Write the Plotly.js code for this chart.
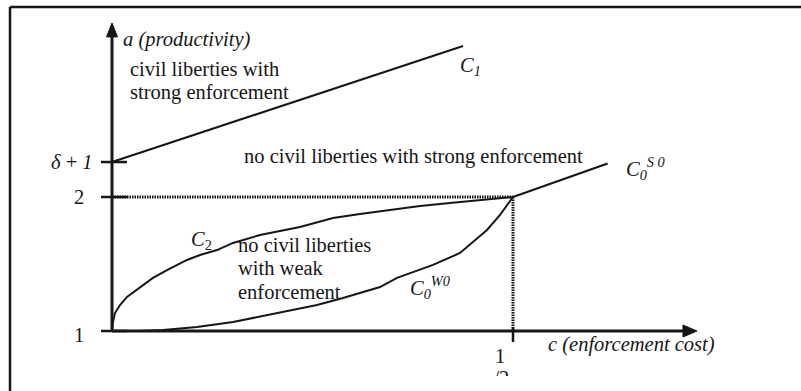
<!DOCTYPE html>
<html>
<head>
<meta charset="utf-8">
<script src="https://cdn.plot.ly/plotly-3.0.1.min.js"></script>
<style>
  html, body { margin: 0; padding: 0; background: #ffffff; }
  #chart { width: 801px; height: 391px; }
</style>
</head>
<body>
<div id="chart"></div>
<script>
// ---- Regions of the (c, a) plane: boundary curves ----
// c = enforcement cost, a = productivity
const deltaPlusOne = 2.261;          // intercept of C1 on the a-axis
const halfCost = 0.5;                // c = 1/2, where C2 and C0^W0 meet C0^S0

// C1: upper boundary (civil liberties with strong enforcement above it)
const c1Cost = [0, 0.4377];
const c1Prod = [deltaPlusOne, 3.127];

// C0^S0: boundary for c beyond 1/2
const c0sCost = [0.5, 0.618];
const c0sProd = [2.0, 2.25];

// C2: concave curve from (0,1) to (1/2, 2)
const c2Cost = [0, 0.0012, 0.0037, 0.010, 0.0187, 0.0349, 0.0511, 0.0686, 0.0935, 0.1097,
                0.1309, 0.1509, 0.1845, 0.2344, 0.2756, 0.3092, 0.3466, 0.3840, 0.4214, 0.4589, 0.5];
const c2Prod = [1.0, 1.067, 1.134, 1.194, 1.254, 1.328, 1.396, 1.455, 1.530, 1.567,
                1.604, 1.657, 1.716, 1.776, 1.843, 1.873, 1.903, 1.933, 1.955, 1.978, 2.0];

// C0^W0: convex curve from (0,1) to (1/2, 2)
const c0wCost = [0, 0.0349, 0.0636, 0.1060, 0.1509, 0.1933, 0.2344, 0.2556, 0.2880, 0.3342,
                 0.3554, 0.4003, 0.4339, 0.4676, 0.4838, 0.4963, 0.5];
const c0wProd = [1.0, 1.0, 1.007, 1.030, 1.067, 1.119, 1.172, 1.194, 1.246, 1.328,
                 1.396, 1.493, 1.582, 1.754, 1.866, 1.963, 2.0];

// Axis extents and tick labels
const axisTopProd = 3.299;
const axisRightCost = 0.7294;
const yTickVals = [1, 2, deltaPlusOne];
const yTickText = ['1', '2', '<i>δ</i> + <i>1</i>'];
const xTickVals = [halfCost];

// ---- styling ----
const INK = '#161616';
const SERIF = '"Liberation Serif", "Times New Roman", serif';
const FS = 20.5;

function curve(x, y, w) {
  return { x: x, y: y, type: 'scatter', mode: 'lines', hoverinfo: 'skip',
           showlegend: false, line: { color: INK, width: w || 2 } };
}

const traces = [
  // axes
  curve([0, 0], [1, axisTopProd - 0.05], 3),
  curve([0, axisRightCost - 0.01], [1, 1], 3),
  // dotted guides at a = 2 and c = 1/2
  { x: [0, halfCost], y: [2, 2], type: 'scatter', mode: 'lines', hoverinfo: 'skip', showlegend: false,
    line: { color: INK, width: 3, dash: '1.5px,1px' } },
  { x: [halfCost, halfCost], y: [1, 2], type: 'scatter', mode: 'lines', hoverinfo: 'skip', showlegend: false,
    line: { color: INK, width: 3, dash: '1.5px,1px' } },
  // boundaries
  curve(c1Cost, c1Prod, 2),
  curve(c0sCost, c0sProd, 2),
  curve(c2Cost, c2Prod, 2),
  curve(c0wCost, c0wProd, 2),
  // denominator of the 1/2 tick label (partly hidden by the page edge strip)
  { x: [0.4855], y: [0.632], type: 'scatter', mode: 'text', text: ['/2'], hoverinfo: 'skip',
    showlegend: false, textposition: 'middle center', cliponaxis: false,
    textfont: { family: SERIF, size: FS, color: INK } }
];

const shapes = [];
// outer frame (left and top edges)
shapes.push({ type: 'line', xref: 'paper', yref: 'paper', x0: 10 / 801, x1: 10 / 801, y0: -0.02, y1: 1 - 7 / 391,
              line: { color: INK, width: 2.5 } });
shapes.push({ type: 'line', xref: 'paper', yref: 'paper', x0: 10 / 801, x1: 1.01, y0: 1 - 7 / 391, y1: 1 - 7 / 391,
              line: { color: INK, width: 2.5 } });
// tick marks crossing the a-axis
yTickVals.forEach(function (v) {
  shapes.push({ type: 'line', xref: 'x', yref: 'y', xsizemode: 'pixel', xanchor: 0,
                x0: -11, x1: 15, y0: v, y1: v, line: { color: INK, width: 2.5 } });
});
// tick mark on the c-axis
xTickVals.forEach(function (v) {
  shapes.push({ type: 'line', xref: 'x', yref: 'y', ysizemode: 'pixel', yanchor: 1,
                y0: 4, y1: -11, x0: v, x1: v, line: { color: INK, width: 2.5 } });
});
// arrowheads
shapes.push({ type: 'path', xref: 'x', yref: 'y', xsizemode: 'pixel', ysizemode: 'pixel',
              xanchor: 0, yanchor: axisTopProd, path: 'M0,0 L-5.5,-14 L5.5,-14 Z',
              fillcolor: INK, line: { color: INK, width: 1 } });
shapes.push({ type: 'path', xref: 'x', yref: 'y', xsizemode: 'pixel', ysizemode: 'pixel',
              xanchor: axisRightCost, yanchor: 1, path: 'M0,0 L-14,6 L-14,-6 Z',
              fillcolor: INK, line: { color: INK, width: 1 } });
// strip along the bottom edge
shapes.push({ type: 'rect', xref: 'x', yref: 'paper', xsizemode: 'pixel', xanchor: halfCost,
              x0: -30, x1: 25, y0: -0.01, y1: 15 / 391, fillcolor: '#ffffff',
              line: { width: 0 }, layer: 'above' });

function label(text, x, y, xanchor, italic) {
  return { text: italic ? '<i>' + text + '</i>' : text, x: x, y: y, xref: 'x', yref: 'y',
           xanchor: xanchor || 'left', yanchor: 'middle', showarrow: false,
           font: { family: SERIF, size: FS, color: INK } };
}

const annotations = [
  label('a (productivity)', 0.0112, 3.179, 'left', true),
  label('civil liberties with', 0.020, 2.955),
  label('strong enforcement', 0.020, 2.783),
  label(yTickText[2], -0.0212, yTickVals[2], 'right'),
  label(yTickText[1], -0.032, yTickVals[1], 'right'),
  label(yTickText[0], -0.033, 0.970, 'right'),
  label('<i>C</i><sub><i>1</i></sub>', 0.432, 2.975),
  label('no civil liberties with strong enforcement', 0.1615, 2.299),
  label('<i>C</i><sub><i>0</i></sub><sup><i>S 0</i></sup>', 0.639, 2.216),
  label('<i>C</i><sub>2</sub>', 0.0955, 1.679),
  label('no civil liberties', 0.1545, 1.642),
  label('with weak', 0.1545, 1.470),
  label('enforcement', 0.1545, 1.291),
  label('<i>C</i><sub><i>0</i></sub><sup><i>W0</i></sup>', 0.369, 1.328),
  label('c (enforcement cost)', 0.5415, 0.896, 'left', true),
  label('1', 0.4838, 0.812, 'center')
];

const layout = {
  width: 801, height: 391,
  margin: { l: 0, r: 0, t: 0, b: 0, pad: 0 },
  paper_bgcolor: '#ffffff', plot_bgcolor: '#ffffff',
  showlegend: false,
  font: { family: SERIF, color: INK },
  xaxis: { range: [-0.13965, 0.85910], visible: false, fixedrange: true },
  yaxis: { range: [0.55224, 3.4701], visible: false, fixedrange: true },
  shapes: shapes,
  annotations: annotations
};

Plotly.newPlot('chart', traces, layout, { staticPlot: true, displayModeBar: false });
</script>
</body>
</html>
